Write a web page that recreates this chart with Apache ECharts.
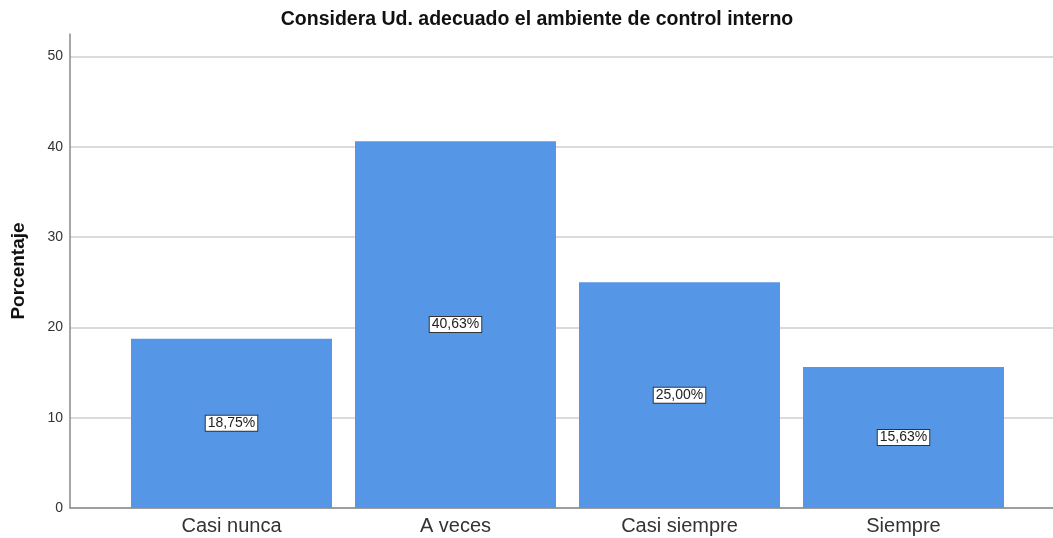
<!DOCTYPE html>
<html>
<head>
<meta charset="utf-8">
<script src="https://cdn.jsdelivr.net/npm/echarts@6/dist/echarts.min.js"></script>
<style>
  html, body { margin: 0; padding: 0; background: #fff; }
  #chart { width: 1053px; height: 538px; }
</style>
</head>
<body>
<div id="chart"></div>
<script>
const categories = ["Casi nunca", "A veces", "Casi siempre", "Siempre"]
const porcentaje = [18.75, 40.63, 25.0, 15.63]
const yTicks = [0, 10, 20, 30, 40, 50]

const chart = echarts.init(document.getElementById("chart"))
const font = "Liberation Sans, Arial, sans-serif"

chart.setOption({
  animation: false,
  title: {
    text: "Considera Ud. adecuado el ambiente de control interno",
    left: 532,
    top: 5,
    textAlign: "center",
    textStyle: { fontFamily: font, fontSize: 19.5, fontWeight: "bold", color: "#111" }
  },
  grid: [
    { left: 70, right: 0, top: 34, bottom: 30, containLabel: false, outerBoundsMode: "none" },
    { left: 119.5, right: 37.5, top: 34, bottom: 30, containLabel: false, outerBoundsMode: "none" }
  ],
  xAxis: [
    {
      gridIndex: 0,
      type: "value",
      min: 0,
      max: 1,
      axisLine: { show: true, onZero: false, lineStyle: { color: "#8a8a8a", width: 1.5 } },
      axisTick: { show: false },
      axisLabel: { show: false },
      splitLine: { show: false }
    },
    {
      gridIndex: 1,
      type: "category",
      data: categories,
      axisLine: { show: false },
      axisTick: { show: false },
      axisLabel: { fontFamily: font, fontSize: 20, color: "#333", margin: 8 }
    }
  ],
  yAxis: [
    {
      gridIndex: 0,
      type: "value",
      min: 0,
      max: 52.5,
      interval: 10,
      name: "Porcentaje",
      nameLocation: "middle",
      nameGap: 42,
      nameTextStyle: { fontFamily: font, fontSize: 19, fontWeight: "bold", color: "#111" },
      axisLine: { show: true, lineStyle: { color: "#8a8a8a", width: 1.5 } },
      axisTick: { show: false },
      axisLabel: {
        fontFamily: font,
        fontSize: 14,
        color: "#333",
        margin: 7,
        formatter: v => (yTicks.includes(v) ? String(v) : "")
      },
      splitLine: { show: true, showMaxLine: false, lineStyle: { color: "#cfcfcf", width: 1.5 } }
    },
    {
      gridIndex: 1,
      type: "value",
      min: 0,
      max: 52.5,
      show: false
    }
  ],
  series: [
    {
      type: "bar",
      xAxisIndex: 1,
      yAxisIndex: 1,
      data: porcentaje,
      barWidth: 201,
      itemStyle: { color: "#5596e6" },
      label: {
        show: true,
        position: "inside",
        fontFamily: font,
        fontSize: 14,
        color: "#222",
        backgroundColor: "#fff",
        borderColor: "#333",
        borderWidth: 1,
        padding: [1, 2, 0, 2],
        formatter: p => p.value.toFixed(2).replace(".", ",") + "%"
      }
    }
  ]
})
</script>
</body>
</html>
